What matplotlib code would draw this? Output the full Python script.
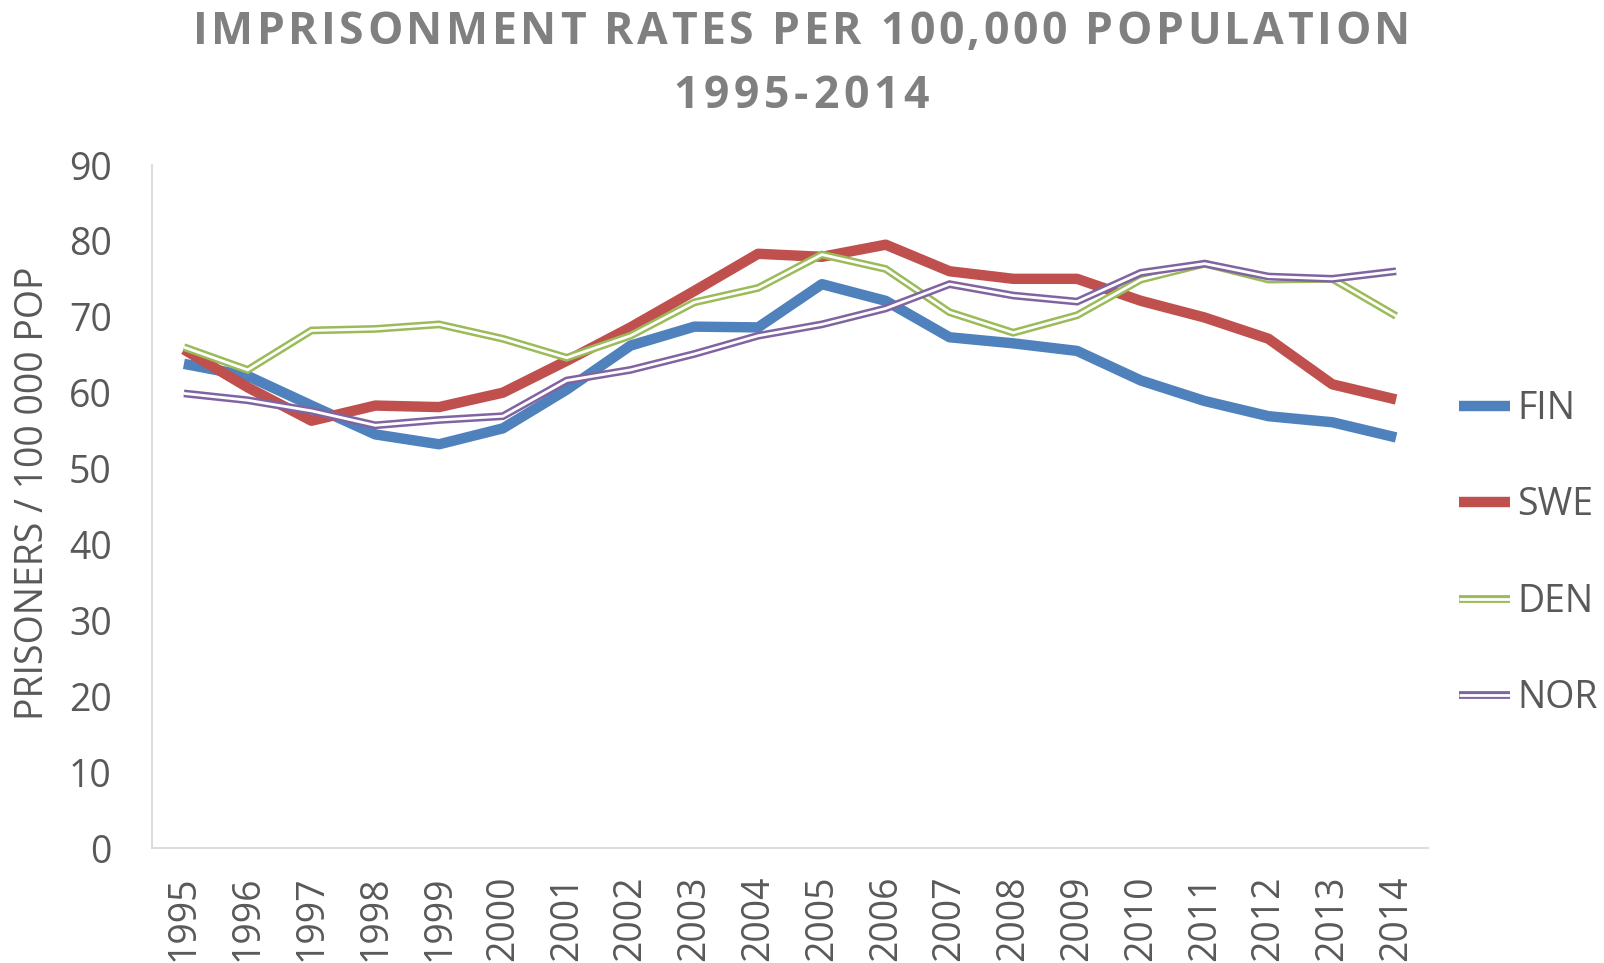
import matplotlib
matplotlib.use("Agg")
import matplotlib.pyplot as plt
from matplotlib.legend_handler import HandlerTuple
from matplotlib.font_manager import findfont, FontProperties
from matplotlib.ft2font import FT2Font, LoadFlags

years = list(range(1995, 2015))
fin = [63.8, 62.2, 58.3, 54.5, 53.2, 55.3, 60.4, 66.2, 68.7, 68.6,
       74.3, 72.1, 67.3, 66.5, 65.5, 61.6, 58.9, 56.9, 56.1, 54.1]
swe = [65.7, 60.7, 56.3, 58.3, 58.1, 60.0, 64.2, 68.6, 73.4, 78.3,
       77.9, 79.5, 76.0, 75.0, 75.0, 72.1, 69.9, 67.1, 61.1, 59.1]
den = [66.0, 63.0, 68.2, 68.4, 69.0, 67.1, 64.6, 67.5, 71.9, 73.8,
       78.2, 76.3, 70.6, 67.9, 70.2, 74.9, 77.0, 74.9, 75.0, 70.1]
nor = [59.9, 59.0, 57.6, 55.7, 56.4, 56.9, 61.6, 63.0, 65.1, 67.5,
       69.0, 71.1, 74.3, 72.8, 72.0, 75.8, 77.0, 75.3, 75.0, 76.0]
series_names = ["FIN", "SWE", "DEN", "NOR"]
title_lines = ["IMPRISONMENT RATES PER 100,000 POPULATION", "1995-2014"]
ylabel = "PRISONERS / 100 000 POP"

colors = {"FIN": "#4F81BD", "SWE": "#C0504D", "DEN": "#9BBB59", "NOR": "#8064A2"}
FONT = "Open Sans"
TXT = "#595959"
W, H, DPI = 1604, 963, 100

fig = plt.figure(figsize=(W / DPI, H / DPI), dpi=DPI)
ax = fig.add_axes([152 / W, 1 - 848 / H, (1428 - 152) / W, (848 - 165) / H])

x = list(range(len(years)))
handles = []
for name, vals in zip(series_names, [fin, swe, den, nor]):
    c = colors[name]
    if name in ("FIN", "SWE"):
        l, = ax.plot(x, vals, color=c, lw=7.5, solid_capstyle="butt", solid_joinstyle="round")
        handles.append(l)
    else:
        l1, = ax.plot(x, vals, color=c, lw=5.6, solid_capstyle="butt", solid_joinstyle="miter")
        l2, = ax.plot(x, vals, color="white", lw=2.0, solid_capstyle="butt", solid_joinstyle="miter")
        handles.append((l1, l2))

ax.set_xlim(-0.5, len(years) - 0.5)
ax.set_ylim(0, 90)
ax.set_yticks(range(0, 91, 10))
ax.set_xticks(x)
ax.set_xticklabels([str(y) for y in years], rotation=90)
for s in ["top", "right"]:
    ax.spines[s].set_visible(False)
for s in ["left", "bottom"]:
    ax.spines[s].set_color("#D9D9D9")
    ax.spines[s].set_linewidth(1.3)
ax.tick_params(axis="both", length=0, labelsize=27, labelcolor=TXT)
ax.tick_params(axis="y", pad=29)
ax.tick_params(axis="x", pad=20)
for lab in ax.get_xticklabels() + ax.get_yticklabels():
    lab.set_fontfamily(FONT)

ax.set_ylabel(ylabel, fontsize=27, color=TXT, fontfamily=FONT)
ax.yaxis.label.set_va("center")
ax.yaxis.set_label_coords((33 - 152) / (1428 - 152), 0.52)

# Title with letter spacing (Excel-style character spacing)
fp = FontProperties(family=FONT, weight="bold")
font = FT2Font(findfont(fp))
TSIZE = 32
font.set_size(TSIZE, DPI)


def metrics(ch):
    g = font.load_char(ord(ch), flags=LoadFlags.NO_HINTING)
    return g.linearHoriAdvance / 65536.0, g.horiBearingX / 64.0, g.width / 64.0


def spaced_title(text, left, right, baseline):
    ms = [metrics(c) for c in text]
    adv = [m[0] for m in ms]
    n = len(text)
    lsb0 = ms[0][1]
    last_off = sum(adv[:-1]) + ms[-1][1] + ms[-1][2]
    # left = x0 + lsb0 ; right = x0 + last_off + (n-1)*s
    x0 = left - lsb0
    s = (right - x0 - last_off) / (n - 1)
    pos = x0
    for i, c in enumerate(text):
        if c != " ":
            fig.text(pos / W, 1 - baseline / H, c, ha="left", va="baseline",
                     fontsize=TSIZE, fontweight="bold", color="#808080",
                     fontfamily=FONT)
        pos += adv[i] + s


spaced_title(title_lines[0], 197, 1406, 44.3)
spaced_title(title_lines[1], 676, 928, 108)

leg = fig.legend(handles, series_names, loc="center left",
                 bbox_to_anchor=(1459 / W, 1 - 553.5 / H),
                 handler_map={tuple: HandlerTuple(ndivide=1)},
                 frameon=False, borderpad=0, borderaxespad=0,
                 handlelength=1.36, handletextpad=0.19, labelspacing=1.56,
                 prop={"family": FONT, "size": 27})
for t in leg.get_texts():
    t.set_color(TXT)

fig.savefig("out.png", dpi=DPI)
